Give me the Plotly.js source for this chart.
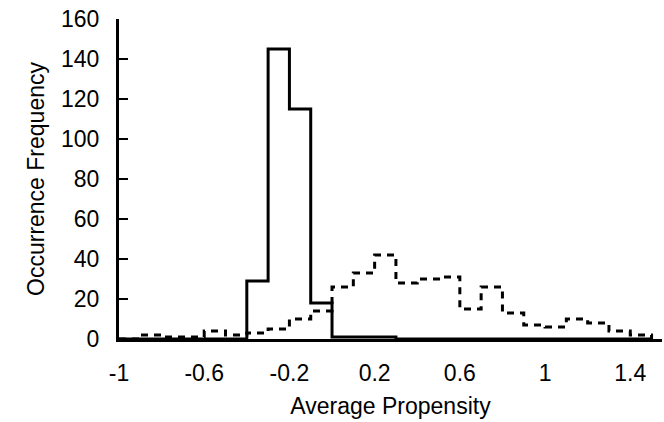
<!DOCTYPE html>
<html>
<head>
<meta charset="utf-8">
<script src="https://cdn.plot.ly/plotly-3.0.1.min.js"></script>
<style>html,body{margin:0;padding:0;background:#fff;}#chart{width:664px;height:422px;}</style>
</head>
<body>
<div id="chart"></div>
<script>
// Histogram bins (left edges, width 0.1) and the last right edge
const binStart = [-1.0, -0.9, -0.8, -0.7, -0.6, -0.5, -0.4, -0.3, -0.2, -0.1,
                  0.0, 0.1, 0.2, 0.3, 0.4, 0.5, 0.6, 0.7, 0.8, 0.9,
                  1.0, 1.1, 1.2, 1.3, 1.4];
const binEnd = 1.5;
// Solid series counts
const solidCounts = [0, 0, 0, 0, 0, 0, 29, 145, 115, 18,
                     1, 1, 1, 0, 0, 0, 0, 0, 0, 0,
                     0, 0, 0, 0, 0];
// Dashed series counts
const dashedCounts = [0, 2, 1, 1, 4, 2, 3, 5, 10, 14,
                      26, 33, 42, 28, 30, 31, 15, 26, 13, 7,
                      6, 10, 8, 4, 2];
// Axis tick labels
const xTicks = [-1, -0.6, -0.2, 0.2, 0.6, 1, 1.4];
const xTickText = ['-1', '-0.6', '-0.2', '0.2', '0.6', '1', '1.4'];
const yTicks = [0, 20, 40, 60, 80, 100, 120, 140, 160];

const xs = binStart.concat([binEnd]);
const font = {family: '"Liberation Sans", Arial, sans-serif', size: 23, color: '#000'};

const traces = [
  {x: xs, y: dashedCounts.concat([0]), type: 'scatter', mode: 'lines',
   line: {shape: 'hv', color: '#000', width: 3, dash: '7px,6px'}, hoverinfo: 'skip'},
  {x: xs, y: solidCounts.concat([0]), type: 'scatter', mode: 'lines',
   line: {shape: 'hv', color: '#000', width: 3}, hoverinfo: 'skip'}
];

const layout = {
  width: 664, height: 422,
  margin: {l: 119, r: 2, t: 19, b: 83, pad: 0},
  paper_bgcolor: '#fff', plot_bgcolor: '#fff',
  showlegend: false,
  font: font,
  xaxis: {
    range: [-1, 1.549], tickvals: xTicks, ticktext: xTickText,
    ticks: '', showgrid: false, zeroline: false,
    showline: true, linecolor: '#000', linewidth: 3,
    ticklabelstandoff: 11,
    tickfont: font,
    title: {text: 'Average Propensity', font: font, standoff: 14}
  },
  yaxis: {
    range: [0, 160], tickvals: yTicks,
    ticks: 'inside', ticklen: 9, tickwidth: 2, tickcolor: '#000',
    showgrid: false, zeroline: false,
    showline: true, linecolor: '#000', linewidth: 3,
    ticklabelstandoff: 12,
    tickfont: font,
    title: {text: 'Occurrence Frequency', font: font, standoff: 10}
  }
};

Plotly.newPlot('chart', traces, layout, {staticPlot: true, displayModeBar: false});
</script>
</body>
</html>
